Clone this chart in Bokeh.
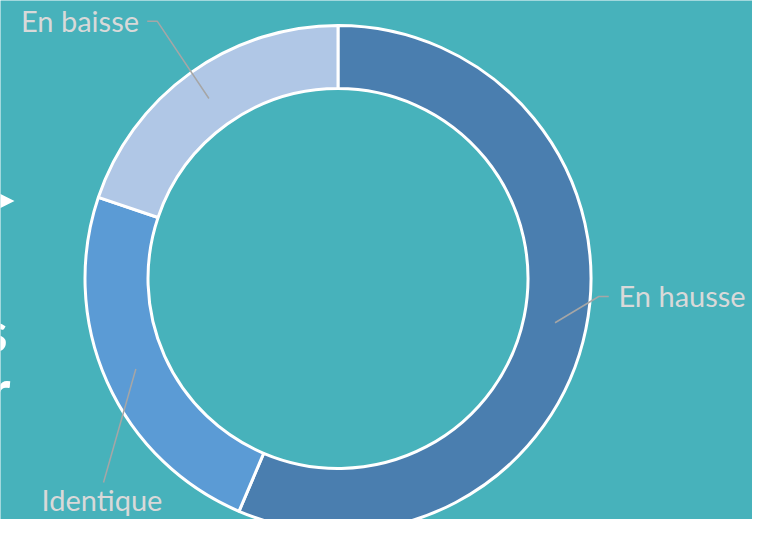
import numpy as np
from bokeh.plotting import figure
from bokeh.models import Range1d
from bokeh.embed import file_html
from bokeh.resources import INLINE
from bokeh.core.properties import value

# ---- data ----
categories = ["En hausse", "Identique", "En baisse"]
shares = [56.4, 23.8, 19.8]
colors = ["#4A7EAF", "#5B9BD5", "#B0C7E6"]

# ---- layout (coordinates in reference-picture pixels, top-down) ----
PW, PH = 752, 519
BG = "#47B2BB"
LABEL_COLOR = "#D9D9D9"
LEADER_COLOR = "#A6A6A6"
FONT = "Lato"
TXT_DY = 12   # renderer draws text slightly low; compensate


def Y(py):
    return PH - py


p = figure(width=PW, height=PH, x_range=Range1d(0, PW), y_range=Range1d(0, PH),
           output_backend="svg", toolbar_location=None, min_border=0,
           background_fill_color=BG, border_fill_color=BG, outline_line_color=None)
p.axis.visible = False
p.grid.visible = False

cx, cy = 337.5, Y(278)
r_in, r_out = 190, 253
r_mid = (r_in + r_out) / 2

total = sum(shares)
fr = np.cumsum([0] + shares) / total
theta0 = fr[:-1] * 2 * np.pi   # clockwise from 12 o'clock
theta1 = fr[1:] * 2 * np.pi
start = np.pi / 2 - theta0
end = np.pi / 2 - theta1

p.annular_wedge(x=cx, y=cy, inner_radius=r_in, outer_radius=r_out,
                start_angle=start, end_angle=end, direction="clock",
                fill_color=colors, line_color="white", line_width=3)

# label leaders
mid = (theta0 + theta1) / 2
ax = cx + r_mid * np.sin(mid)
ay = cy + r_mid * np.cos(mid)

elbows = [(598.3, 296.0), (103.0, 482.0), (156.7, 20.7)]
tails = [(608.3, 296.0), (103.0, 482.0), (146.7, 20.7)]
text_pos = [(618, 306.5), (101.5, 511.0), (138.5, 32.3)]
aligns = ["left", "center", "right"]

xs, ys = [], []
for i in range(3):
    xs.append([ax[i], elbows[i][0], tails[i][0]])
    ys.append([ay[i], Y(elbows[i][1]), Y(tails[i][1])])
p.multi_line(xs=xs, ys=ys, line_color=LEADER_COLOR, line_width=1.5)

for i, lab in enumerate(categories):
    p.text(x=[text_pos[i][0]], y=[Y(text_pos[i][1] - TXT_DY)], text=[lab],
           text_font=value(FONT), text_font_size="29px", text_color=LABEL_COLOR,
           text_align=aligns[i], text_baseline="alphabetic")

# cut-off pieces of the slide's own text at the left edge
p.patch(x=[-1, 14, -1], y=[Y(193), Y(200.5), Y(208)], fill_color="white", line_color=None)
p.text(x=[7, 10], y=[Y(342 - TXT_DY), Y(400 - TXT_DY)], text=["s", "r"],
       text_font=value(FONT), text_font_style="bold", text_font_size="56px",
       text_color="white", text_align="right", text_baseline="alphabetic")

open("out.html", "w").write(file_html(p, INLINE))
